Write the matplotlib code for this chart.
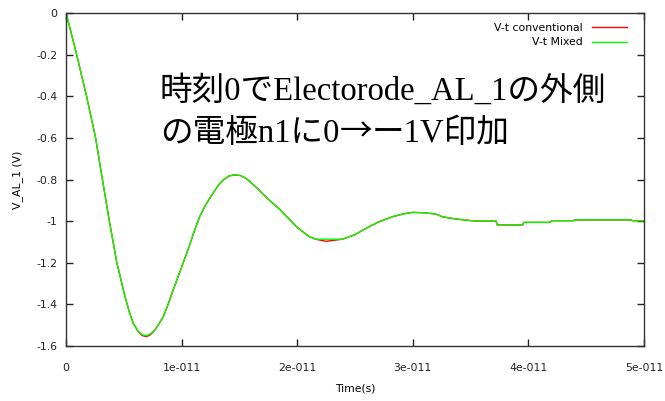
import matplotlib
matplotlib.use("Agg")
import matplotlib.pyplot as plt

plt.rcParams['axes.unicode_minus'] = False
plt.rcParams['font.family'] = ['DejaVu Sans']

# time in units of 1e-11 s
t = [0.0, 0.04, 0.092, 0.178, 0.256, 0.315, 0.375, 0.44, 0.509, 0.55, 0.581, 0.624,
     0.66, 0.696, 0.73, 0.768, 0.80, 0.84, 0.88, 0.926, 1.012, 1.06, 1.113, 1.156,
     1.21, 1.271, 1.32, 1.358, 1.41, 1.458, 1.51, 1.559, 1.65, 1.75, 1.846, 1.904,
     2.0, 2.105, 2.16, 2.25, 2.39, 2.5, 2.594, 2.7, 2.824, 2.92, 2.997, 3.1, 3.2,
     3.255, 3.35, 3.457, 3.55, 3.72, 3.73, 3.95, 3.96, 4.19, 4.20, 4.39, 4.40, 4.89,
     4.90, 5.0]
v_mixed = [0.0, -0.085, -0.2, -0.4, -0.6, -0.8, -1.0, -1.2, -1.36, -1.44, -1.49,
           -1.53, -1.546, -1.55, -1.542, -1.524, -1.497, -1.46, -1.405, -1.332,
           -1.203, -1.13, -1.043, -0.979, -0.92, -0.867, -0.826, -0.803, -0.783,
           -0.777, -0.781, -0.795, -0.84, -0.895, -0.942, -0.975, -1.03, -1.075,
           -1.087, -1.087, -1.087, -1.065, -1.035, -1.005, -0.979, -0.965, -0.958,
           -0.96, -0.966, -0.979, -0.988, -0.995, -1.0, -1.0, -1.018, -1.018, -1.006,
           -1.006, -0.998, -0.998, -0.994, -0.994, -0.998, -0.998]
v_conv = [0.0, -0.085, -0.2, -0.4, -0.6, -0.8, -1.0, -1.2, -1.36, -1.44, -1.49,
          -1.53, -1.55, -1.555, -1.546, -1.524, -1.497, -1.46, -1.405, -1.332,
          -1.203, -1.13, -1.043, -0.979, -0.92, -0.867, -0.826, -0.803, -0.783,
          -0.778, -0.781, -0.795, -0.84, -0.895, -0.942, -0.975, -1.03, -1.075,
          -1.087, -1.097, -1.087, -1.065, -1.035, -1.005, -0.979, -0.965, -0.958,
          -0.96, -0.966, -0.979, -0.988, -0.995, -1.0, -1.0, -1.018, -1.018, -1.006,
          -1.006, -0.998, -0.998, -0.994, -0.994, -0.998, -0.998]

labels = ["V-t conventional", "V-t Mixed"]
xticks = [0, 1e-11, 2e-11, 3e-11, 4e-11, 5e-11]
xticklabels = ["0", "1e-011", "2e-011", "3e-011", "4e-011", "5e-011"]
yticks = [0, -0.2, -0.4, -0.6, -0.8, -1.0, -1.2, -1.4, -1.6]
yticklabels = ["0", "-0.2", "-0.4", "-0.6", "-0.8", "-1", "-1.2", "-1.4", "-1.6"]
annotation1 = "時刻0でElectorode_AL_1の外側"
annotation2_parts = ["の電極n1に0", "→", "ー1V印加"]

W, H = 665, 401
fig = plt.figure(figsize=(W / 100, H / 100), dpi=100)
ax = fig.add_axes([66 / W, 1 - 346 / H, (644 - 66) / W, (346 - 13) / H])

ts = [x * 1e-11 for x in t]
ax.plot(ts, v_conv, color="#ff0000", lw=1.0, label=labels[0])
ax.plot(ts, v_mixed, color="#00ff00", lw=1.0, label=labels[1])

ax.set_xlim(0, 5e-11)
ax.set_ylim(-1.6, 0)
ax.set_xticks(xticks)
ax.set_xticklabels(xticklabels)
ax.set_yticks(yticks)
ax.set_yticklabels(yticklabels)
ax.tick_params(direction="in", length=5, width=1, top=True, right=True,
               labelsize=7.8, colors="#222222", pad=6)
ax.tick_params(axis="x", pad=12)
for s in ax.spines.values():
    s.set_color("#333333")
    s.set_linewidth(1.0)

ax.set_xlabel("Time(s)", fontsize=7.8, labelpad=8)
ax.set_ylabel("V_AL_1 (V)", fontsize=7.8, labelpad=10)

leg = ax.legend(loc="upper right", frameon=False, markerfirst=False,
                fontsize=7.8, handlelength=3.3, handletextpad=0.8,
                labelspacing=0.45, borderaxespad=0.3,
                bbox_to_anchor=(1 - 9 / 578, 1 - 2 / 333))

serif_cjk = ["Liberation Serif", "Noto Sans CJK JP"]
cjk = ["Noto Sans CJK JP"]
fs = 23.5
fig.text(160 / W, 1 - 99.5 / H, annotation1, fontsize=fs, family=serif_cjk,
         va="baseline", ha="left")

renderer = fig.canvas.get_renderer()
x0 = 160 / W
fams = [serif_cjk, cjk, serif_cjk]
for part, fm in zip(annotation2_parts, fams):
    txt = fig.text(x0, 1 - 142 / H, part, fontsize=fs, family=fm,
                   va="baseline", ha="left")
    bb = txt.get_window_extent(renderer)
    x0 = bb.x1 / W

fig.savefig("out.png", dpi=100)
